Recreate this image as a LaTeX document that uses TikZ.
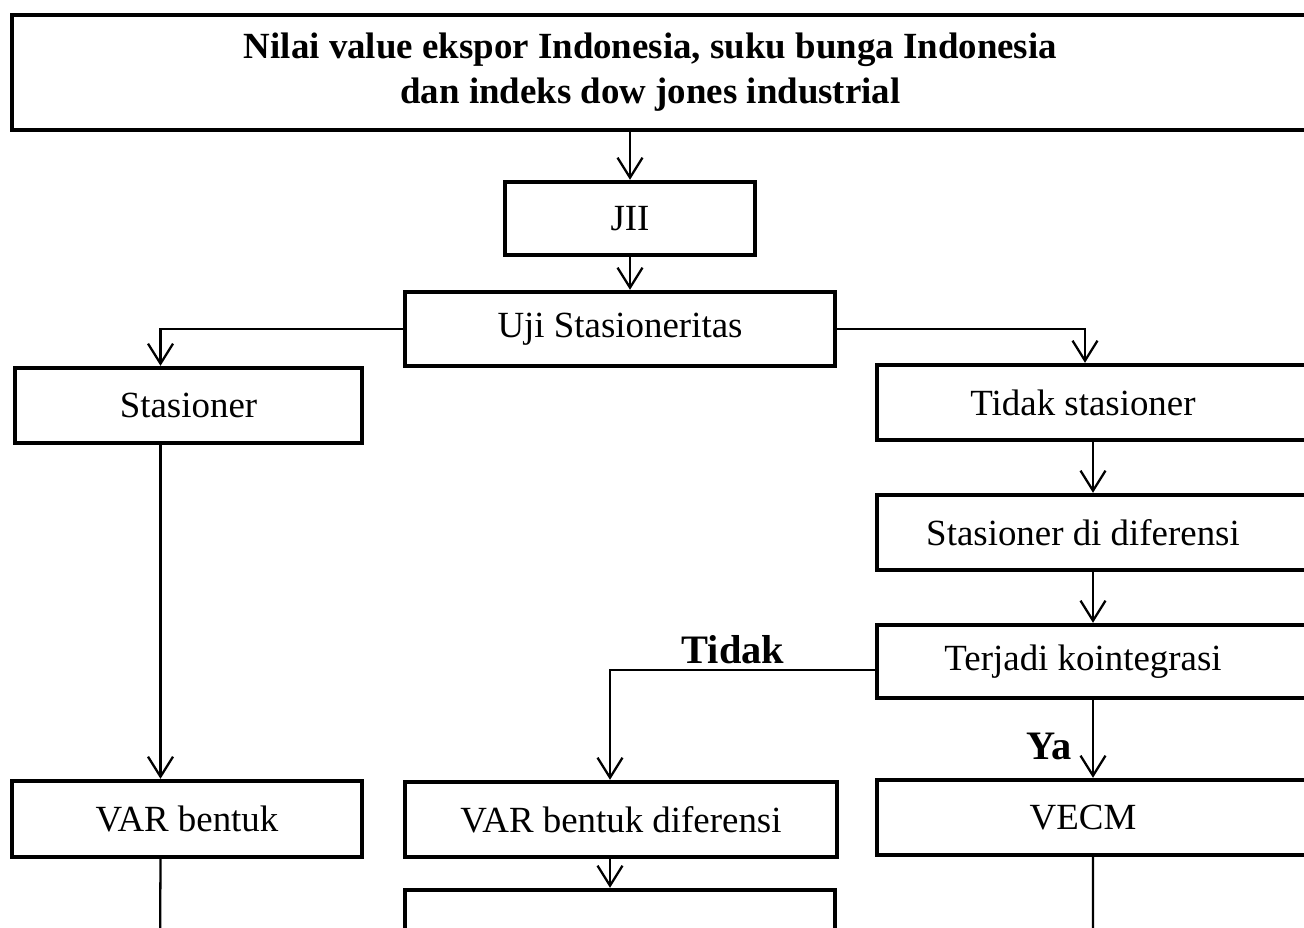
\documentclass[tikz,border=0pt]{standalone}
\usepackage{fontspec}
\setmainfont{Liberation Serif}
\usetikzlibrary{arrows.meta}
\begin{document}
\begin{tikzpicture}[x=0.02cm,y=-0.02cm,
  box/.style={draw,line width=2.5pt,minimum height=1.5cm,inner sep=0pt,font=\fontsize{21}{25.6}\selectfont},
  wbox/.style={box,minimum width=9.06cm},
  rtext/.style={font=\fontsize{21}{25.6}\selectfont,xshift=-0.41cm,inner sep=0pt},
  line/.style={line width=1.3pt},
  arr/.style={line,-{Straight Barb[length=0.4cm,width=0.5cm]}},
  tag/.style={font=\bfseries\fontsize{23}{27}\selectfont,inner sep=0pt}]
\useasboundingbox (0,0) rectangle (1304,928);
\clip (0,0) rectangle (1304,928);
% kotak
\node[box,minimum width=26.36cm,minimum height=2.3cm,label={[name=titletx,rtext,align=center,font=\bfseries\fontsize{21}{25.6}\selectfont]center:{Nilai value ekspor Indonesia, suku bunga Indonesia\\dan indeks dow jones industrial}}] (title) at (671,72.5) {};%data
\node[box,minimum width=5cm,minimum height=1.46cm] (jii) at (630,218.5) {JII};
\node[box,minimum width=8.6cm,minimum height=1.48cm] (uji) at (620,329) {Uji Stasioneritas};
\node[box,minimum width=6.94cm] (stas) at (188.5,405.5) {Stasioner};
\node[wbox,label={[name=tidaktx,rtext]center:Tidak stasioner}] (tidak) at (1103.5,402.5) {};
\node[wbox,label={[name=diftx,rtext]center:Stasioner di diferensi}] (dif) at (1103.5,532.5) {};
\node[wbox,minimum height=1.46cm,label={[name=kointx,rtext]center:Terjadi kointegrasi}] (koin) at (1103.5,661.5) {};
\node[box,minimum width=7cm,minimum height=1.52cm] (varb) at (187,819) {VAR bentuk};
\node[box,minimum width=8.64cm] (vard) at (621,819.5) {VAR bentuk diferensi};
\node[wbox,label={[name=vecmtx,rtext]center:VECM}] (vecm) at (1103.5,817.5) {};
\node[box,minimum width=8.6cm] (next) at (620,927.5) {};%terpotong
% titik bantu
\coordinate (stasin) at ([xshift=-0.56cm]stas.north);%x=160
\coordinate (tidakin) at ([xshift=-0.37cm]tidak.north);
\coordinate (kol) at ([xshift=-0.21cm]tidak.south);%kolom kanan
\coordinate (koinout) at ([yshift=-0.17cm]koin.west);
\coordinate (vardin) at ([xshift=-0.22cm]vard.north);
\coordinate (varbout) at (160,960);
\coordinate (vecmout) at (1093,960);
% panah
\draw[arr] (jii.north |- title.south) -- (jii.north);
\draw[arr] (jii.south) -- (jii.south |- uji.north);
\draw[arr] (uji.west) -| (stasin);
\draw[arr] (uji.east) -| (tidakin);
\draw[arr] (kol) -- (kol |- dif.north);
\draw[arr] (kol |- dif.south) -- (kol |- koin.north);
\draw[arr] (kol |- koin.south) -- node[tag,left=0.4cm,pos=0.6] (ya) {Ya} (kol |- vecm.north);
\draw[arr] (koinout) -| node[tag,above=0.1cm,pos=0.268] (tidaklbl) {Tidak} (vardin);
\draw[arr] (stas.south -| stasin) -- (stasin |- varb.north);
\draw[arr] (vardin |- vard.south) -- (vardin |- next.north);
\draw[line] (stasin |- varb.south) -- (varbout);
\draw[line] (kol |- vecm.south) -- (vecmout);
\end{tikzpicture}
\end{document}
